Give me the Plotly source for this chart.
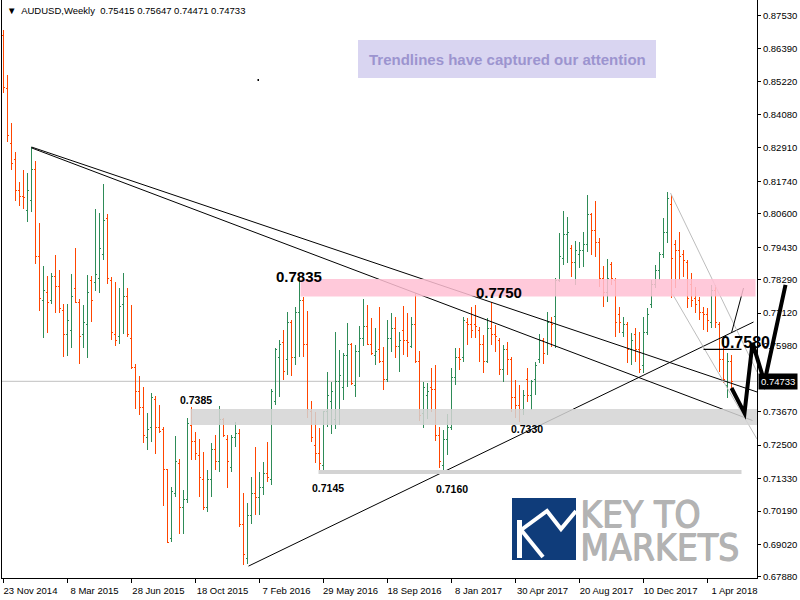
import plotly.graph_objects as go

# ---------------- data: AUDUSD weekly bars (bar 0 = week of 23 Nov 2014) ----------------
opens = [.8686,.8500,.8308,.8249,.8140,.8122,.8073,.8108,.8214,.7912,
         .7758,.7786,.7758,.7839,.7807,.7723,.7636,.7653,.7800,.7751,
         .7636,.7671,.7825,.7821,.7832,.7919,.8042,.7828,.7639,.7629,
         .7741,.7772,.7625,.7520,.7439,.7380,.7275,.7310,.7408,.7310,
         .7303,.7163,.6924,.7082,.7187,.7030,.7058,.7320,.7261,.7212,
         .7128,.7030,.7131,.7233,.7191,.7341,.7268,.7173,.7275,.7292,
         .6973,.6854,.7005,.7082,.7068,.7103,.7152,.7128,.7401,.7555,
         .7608,.7548,.7678,.7555,.7716,.7758,.7604,.7369,.7250,.7219,
         .7177,.7366,.7401,.7338,.7471,.7453,.7565,.7601,.7460,.7576,
         .7625,.7664,.7604,.7562,.7583,.7541,.7478,.7625,.7657,.7594,
         .7650,.7618,.7594,.7671,.7541,.7362,.7425,.7453,.7443,.7285,
         .7180,.7268,.7310,.7485,.7555,.7555,.7681,.7671,.7671,.7653,
         .7601,.7541,.7660,.7636,.7618,.7513,.7583,.7548,.7415,.7390,
         .7373,.7478,.7425,.7478,.7548,.7618,.7608,.7681,.7699,.7828,
         .7905,.7986,.7940,.7891,.7916,.7930,.7951,.8056,.8003,.7958,
         .7835,.7783,.7881,.7828,.7706,.7643,.7671,.7583,.7636,.7583,
         .7530,.7643,.7741,.7811,.7863,.7916,.7996,.8091,.7951,.7933,
         .7916,.7891,.7811,.7765,.7758,.7716,.7706,.7678,.7793,.7671,
         .7548,.7460,.75415]
highs = [.8704,.8546,.8378,.8277,.8171,.8214,.8203,.8294,.8245,.8028,
         .7877,.7842,.7853,.7916,.7863,.7744,.7744,.7849,.7940,.7760,
         .7741,.7846,.7842,.8077,.8063,.8164,.8059,.7839,.7821,.7800,
         .7853,.7800,.7741,.7534,.7492,.7453,.7362,.7432,.7422,.7390,
         .7313,.7166,.7103,.7282,.7201,.7093,.7345,.7383,.7296,.7271,
         .7226,.7163,.7257,.7285,.7387,.7345,.7285,.7285,.7331,.7306,
         .7082,.7047,.7138,.7243,.7156,.7191,.7261,.7446,.7590,.7618,
         .7653,.7716,.7688,.7734,.7835,.7769,.7720,.7404,.7366,.7310,
         .7369,.7506,.7471,.7646,.7583,.7572,.7678,.7608,.7601,.7667,
         .7762,.7741,.7695,.7660,.7734,.7594,.7688,.7713,.7699,.7646,
         .7737,.7713,.7699,.7783,.7579,.7471,.7467,.7520,.7530,.7313,
         .7303,.7359,.7520,.7590,.7590,.7699,.7695,.7734,.7741,.7664,
         .7636,.7695,.7751,.7671,.7625,.7601,.7611,.7558,.7478,.7460,
         .7443,.7520,.7478,.7541,.7639,.7625,.7716,.7699,.7835,.7993,
         .8070,.8049,.7951,.7965,.7961,.7996,.8126,.8063,.8105,.7975,
         .7877,.7902,.7891,.7835,.7734,.7699,.7681,.7643,.7660,.7646,
         .7699,.7730,.7828,.7881,.7926,.8045,.8136,.8126,.7968,.7996,
         .7933,.7898,.7853,.7804,.7769,.7734,.7730,.7811,.7811,.7681,
         .7618,.7572,.75647]
lows = [.8483,.8312,.8214,.8105,.8087,.8077,.8031,.8066,.7884,.7720,
        .7625,.7643,.7744,.7713,.7713,.7558,.7562,.7590,.7748,.7534,
        .7590,.7555,.7681,.7790,.7783,.7898,.7814,.7618,.7597,.7604,
        .7639,.7629,.7516,.7376,.7355,.7257,.7233,.7261,.7219,.7292,
        .7037,.6907,.6910,.7068,.6938,.6938,.7047,.7198,.7198,.7068,
        .7023,.7016,.7068,.7163,.7156,.7278,.7100,.7156,.7243,.6963,
        .6830,.6833,.6973,.7005,.7005,.7075,.7121,.7110,.7390,.7418,
        .7478,.7495,.7492,.7530,.7558,.7558,.7345,.7261,.7187,.7149,
        .7152,.7313,.7289,.7306,.7320,.7408,.7453,.7460,.7418,.7488,
        .7597,.7601,.7565,.7530,.7537,.7443,.7471,.7576,.7555,.7506,
        .7565,.7558,.7590,.7537,.7334,.7310,.7341,.7366,.7264,.7170,
        .7159,.7215,.7303,.7460,.7513,.7541,.7601,.7625,.7625,.7541,
        .7502,.7537,.7601,.7576,.7495,.7471,.7495,.7366,.7345,.7331,
        .7355,.7401,.7373,.7425,.7537,.7534,.7565,.7594,.7590,.7821,
        .7881,.7888,.7839,.7811,.7870,.7874,.7926,.7916,.7909,.7804,
        .7734,.7751,.7811,.7629,.7643,.7629,.7537,.7530,.7541,.7502,
        .7502,.7636,.7730,.7800,.7828,.7905,.7958,.7765,.7800,.7828,
        .7839,.7730,.7734,.7713,.7688,.7653,.7646,.7660,.7660,.7506,
        .7467,.7415,.74471]
closes = [.8504,.8336,.8238,.8140,.8122,.8118,.8143,.8214,.7912,.7762,
          .7793,.7751,.7839,.7807,.7730,.7636,.7688,.7772,.7751,.7632,
          .7678,.7783,.7758,.7846,.7937,.8038,.7832,.7646,.7618,.7737,
          .7772,.7636,.7520,.7439,.7380,.7285,.7303,.7415,.7310,.7296,
          .7166,.6910,.7086,.7194,.7030,.7058,.7327,.7261,.7222,.7138,
          .7030,.7131,.7233,.7191,.7338,.7285,.7191,.7275,.7292,.6973,
          .6865,.7005,.7082,.7068,.7103,.7152,.7135,.7436,.7583,.7601,
          .7506,.7681,.7555,.7716,.7758,.7604,.7373,.7275,.7219,.7184,
          .7366,.7425,.7436,.7471,.7495,.7565,.7601,.7467,.7576,.7625,
          .7664,.7604,.7569,.7576,.7541,.7478,.7625,.7657,.7594,.7618,
          .7618,.7608,.7671,.7541,.7355,.7453,.7436,.7443,.7285,.7191,
          .7268,.7310,.7485,.7555,.7548,.7688,.7671,.7653,.7664,.7601,
          .7541,.7660,.7636,.7629,.7513,.7583,.7548,.7415,.7390,.7373,
          .7425,.7425,.7471,.7530,.7618,.7572,.7681,.7671,.7828,.7909,
          .7986,.7996,.7891,.7930,.7930,.7951,.8056,.8003,.7958,.7835,
          .7783,.7835,.7835,.7678,.7678,.7671,.7583,.7618,.7583,.7513,
          .7643,.7706,.7811,.7863,.7916,.7996,.8115,.7905,.7933,.7909,
          .7898,.7765,.7758,.7741,.7716,.7706,.7688,.7793,.7678,.7548,
          .7478,.7541,.74733]

week_tick_index = [0, 16, 32, 48, 64, 80, 96, 112, 128, 144, 160, 176]
week_tick_labels = ["23 Nov 2014", "8 Mar 2015", "28 Jun 2015", "18 Oct 2015",
                    "7 Feb 2016", "29 May 2016", "18 Sep 2016", "8 Jan 2017",
                    "30 Apr 2017", "20 Aug 2017", "10 Dec 2017", "1 Apr 2018"]
price_ticks = [0.87530, 0.86390, 0.85220, 0.84080, 0.82910, 0.81740, 0.80600,
               0.79430, 0.78290, 0.77120, 0.75980, 0.73670, 0.72500, 0.71330,
               0.70190, 0.69020, 0.67880]
last_price = closes[-1]

# ---------------- layout geometry ----------------
ML, MR, MT, MB = 2, 43, 0, 22
PW, PH = 800 - ML - MR, 600 - MT - MB
BAR_PX = 4.0
X0 = -1.5 / BAR_PX            # bar 0 centred on a half pixel
X1 = X0 + PW / BAR_PX
Y0, Y1 = 0.67843, 0.88090

def to_paper(xi, price):
    return (xi - X0) / (X1 - X0), (price - Y0) / (Y1 - Y0)

def px_paper(px, py):
    return (px - ML) / PW, 1 - (py - MT) / PH

GREEN = "#2E8B57"
RED = "#FF4500"
FONT = "Liberation Sans, Arial, sans-serif"

xs = list(range(len(opens)))
fig = go.Figure(go.Ohlc(
    x=xs, open=opens, high=highs, low=lows, close=closes,
    increasing=dict(line=dict(color=GREEN, width=1)),
    decreasing=dict(line=dict(color=RED, width=1)),
    tickwidth=0.4, hoverinfo="skip", showlegend=False))

shapes = []
shapes.append(dict(type="line", xref="x", yref="y", x0=X0, x1=X1, y0=last_price, y1=last_price,
                   line=dict(color="#C0C0C0", width=1), layer="below"))
for (a, pa, b, pb) in [(7, .8294, X1, .7436), (7, .8291, 187.25, .7336),
                       (61.25, .6826, 187.5, .7681)]:
    shapes.append(dict(type="line", xref="x", yref="y", x0=a, y0=pa, x1=b, y1=pb,
                       line=dict(color="black", width=1), layer="above"))
for (a, pa, b, pb) in [(166.75, .8133, X1, .7506), (167.25, .7779, X1, .7271)]:
    shapes.append(dict(type="line", xref="x", yref="y", x0=a, y0=pa, x1=b, y1=pb,
                       line=dict(color="#BDBDBD", width=1), layer="above"))
shapes.append(dict(type="line", xref="x", yref="y", x0=175, x1=184.5, y0=.7585, y1=.7585,
                   line=dict(color="black", width=1.3), layer="above"))
shapes.append(dict(type="line", xref="x", yref="y", x0=182, y0=.7643, x1=185, y1=.7800,
                   line=dict(color="black", width=1), layer="above"))
shapes.append(dict(type="rect", xref="x", yref="y", x0=74.25, x1=188.0, y0=.7770, y1=.7832,
                   fillcolor="#FFC0D4", opacity=0.85, line=dict(width=0), layer="above"))
shapes.append(dict(type="rect", xref="x", yref="y", x0=46.75, x1=X1, y0=.7320, y1=.7376,
                   fillcolor="#D3D3D3", opacity=0.85, line=dict(width=0), layer="above"))
shapes.append(dict(type="line", xref="x", yref="y", x0=78.75, x1=184.5, y0=.7156, y1=.7156,
                   line=dict(color="#D3D3D3", width=4), layer="above"))
zig = [(182, .7450), (185.25, .7362), (187.25, .7608), (190.25, .7471), (195.5, .7811)]
pts = [to_paper(a, b) for a, b in zig]
path = "M " + " L ".join(f"{x:.5f},{y:.5f}" for x, y in pts)
shapes.append(dict(type="path", xref="paper", yref="paper", path=path,
                   line=dict(color="black", width=4), layer="above"))
dx, dy = to_paper(63.5, .8525)
shapes.append(dict(type="rect", xref="paper", yref="paper", x0=dx, x1=dx + 1.5 / PW,
                   y0=dy, y1=dy + 2 / PH, fillcolor="black", line=dict(width=0)))
bx0, by0 = px_paper(358, 78)
bx1, by1 = px_paper(656, 40)
shapes.append(dict(type="rect", xref="paper", yref="paper", x0=bx0, x1=bx1, y0=by0, y1=by1,
                   fillcolor="#D9D5F1", line=dict(width=0), layer="above"))
lx0, ly0 = px_paper(512, 560)
lx1, ly1 = px_paper(576, 498)
shapes.append(dict(type="rect", xref="paper", yref="paper", x0=lx0, x1=lx1, y0=ly0, y1=ly1,
                   fillcolor="#0F3C7A", line=dict(width=0), layer="above"))
kx0, ky0 = px_paper(517, 558)
kx1, ky1 = px_paper(522, 520)
shapes.append(dict(type="rect", xref="paper", yref="paper", x0=kx0, x1=kx1, y0=ky0, y1=ky1,
                   fillcolor="white", line=dict(width=0), layer="above"))
def ppath(points):
    return "M " + " L ".join("{:.5f},{:.5f}".format(*px_paper(a, b)) for a, b in points)
shapes.append(dict(type="path", xref="paper", yref="paper", path=ppath([(522, 531), (543, 557)]),
                   line=dict(color="white", width=4), layer="above"))
shapes.append(dict(type="path", xref="paper", yref="paper",
                   path=ppath([(521, 530), (547, 511), (561, 529), (576, 511)]),
                   line=dict(color="white", width=4), layer="above"))

annotations = []
def label(xi, price, text, size):
    annotations.append(dict(x=xi, y=price, xref="x", yref="y", text=text, showarrow=False,
                            xanchor="center", yanchor="middle",
                            font=dict(family=FONT, size=size, color="black", weight="bold")))
label(73.75, .7839, "0.7835", 15)
label(123.9, .7785, "0.7750", 15)
label(48.0, .7408, "0.7385", 10.5)
label(81.0, .7100, "0.7145", 10.5)
label(112.0, .7097, "0.7160", 10.5)
label(130.75, .7305, "0.7330", 10.5)
label(185.4, .7608, "0.7580", 16)

tx, ty = px_paper(507, 59)
annotations.append(dict(x=tx, y=ty, xref="paper", yref="paper", showarrow=False,
                        xanchor="center", yanchor="middle",
                        text="Trendlines have captured our attention",
                        font=dict(family=FONT, size=15, color="#9C94CF", weight="bold")))
hx, hy = px_paper(5, 10)
annotations.append(dict(x=hx, y=hy, xref="paper", yref="paper", showarrow=False,
                        xanchor="left", yanchor="middle",
                        text="▼  AUDUSD,Weekly  0.75415 0.75647 0.74471 0.74733",
                        font=dict(family=FONT, size=9.5, color="black")))
for txt, py in [("KEY TO", 514), ("MARKETS", 547)]:
    ax, ay = px_paper(578, py)
    annotations.append(dict(x=ax, y=ay, xref="paper", yref="paper", showarrow=False,
                            xanchor="left", yanchor="middle", text=txt,
                            font=dict(family="Liberation Sans Narrow, DejaVu Sans Condensed, sans-serif",
                                      size=37, color="#B3B3B3",
                                      shadow="1px 0px 0px #B3B3B3, 0px 0.6px 0px #B3B3B3")))
annotations.append(dict(x=1, y=last_price, xref="paper", yref="y", xanchor="left", yanchor="middle",
                        xshift=1, text=f"{last_price:.5f}", showarrow=False, bgcolor="black",
                        borderpad=2, font=dict(family=FONT, size=9.5, color="white")))

fig.update_layout(
    width=800, height=600, margin=dict(l=ML, r=MR, t=MT, b=MB),
    paper_bgcolor="white", plot_bgcolor="white", showlegend=False,
    shapes=shapes, annotations=annotations,
    xaxis=dict(range=[X0, X1], rangeslider=dict(visible=False), showgrid=False, zeroline=False,
               showline=True, linecolor="black", linewidth=1, ticks="outside", ticklen=4,
               tickcolor="black", tickvals=week_tick_index, ticktext=week_tick_labels,
               tickfont=dict(family=FONT, size=9.5, color="black"), ticklabelshift=27,
               fixedrange=True),
    yaxis=dict(range=[Y0, Y1], side="right", showgrid=False, zeroline=False, showline=True,
               mirror=True, linecolor="black", linewidth=1, ticks="outside", ticklen=3,
               tickcolor="black", tickvals=price_ticks, ticktext=[f"{v:.5f}" for v in price_ticks],
               tickfont=dict(family=FONT, size=9.5, color="black"), fixedrange=True),
)

fig.write_html(
    "out.html",
    config={"displayModeBar": False, "staticPlot": True},
    post_script=("document.body.style.margin='0';document.body.style.overflow='hidden';"
                 "document.querySelectorAll('.ohlclayer path').forEach(function(p){"
                 "p.style.shapeRendering='crispEdges';});"),
)
